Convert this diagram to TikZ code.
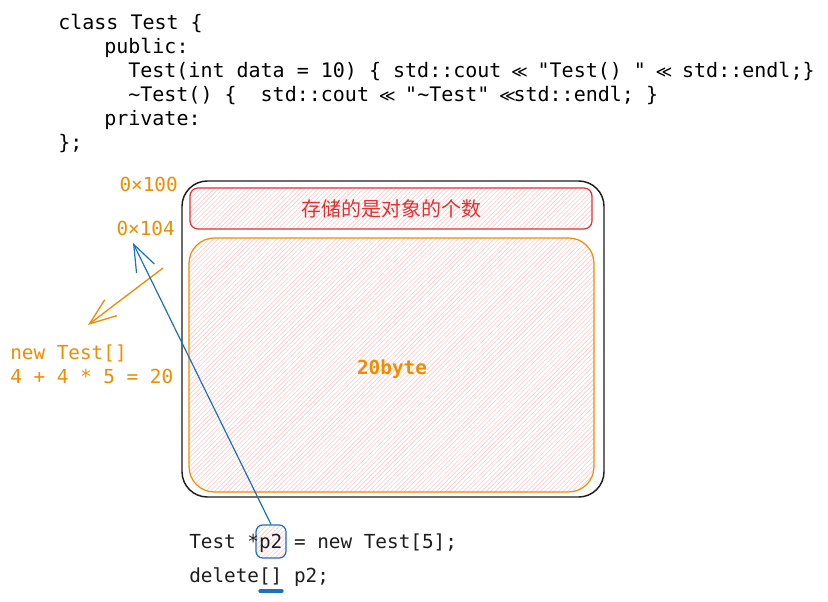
\documentclass[tikz,border=0pt]{standalone}
\usepackage{fontspec}
\setmonofont{DejaVu Sans Mono}
\newfontfamily\cjk{Noto Sans CJK SC}
\newfontfamily\symfont{DejaVu Sans}
\newcommand\shl{\makebox[0.602em]{\symfont\fontsize{12}{12}\selectfont ≪}}
\usetikzlibrary{arrows.meta,fit,patterns.meta,positioning}
\definecolor{ink}{HTML}{1E1E1E}
\definecolor{exorange}{HTML}{F08C00}
\definecolor{exred}{HTML}{E03131}
\definecolor{exblue}{HTML}{1971C2}
\definecolor{hatch}{HTML}{FFC9C9}
\tikzset {
  >={Straight Barb[length=20pt,width=15pt]},
  every node/.style={font=\ttfamily\fontsize{14.5}{18}\selectfont, inner sep=0pt},
  code/.style={anchor=mid west, text=ink},
  topcode/.style={code, font=\ttfamily\fontsize{15}{18}\selectfont, text=black},
  addr/.style={anchor=mid east, text=exorange},
  hatched/.style={pattern={Lines[angle=45,distance=2.4pt,line width=0.45pt]}, pattern color=hatch},
  box/.style={draw, rounded corners=#1, line width=0.9pt, inner sep=0pt},
}

\begin{document}
\begin{tikzpicture}[x=0.75pt,y=-0.75pt]
          \useasboundingbox[fill=white] (0,0) rectangle (828,602);

          \node[topcode] (l1) at (58,27) {class Test \{};
          \node[topcode] (l2) at (104,51) {public:};
          \node[topcode] (l3) at (128,75) {Test(int data = 10) \{ std::cout \shl{} "Test() " \shl{} std::endl;\}};
          \node[topcode] (l4) at (128,99) {\textasciitilde Test() \{ \ std::cout \shl{} "\textasciitilde Test" \shl std::endl; \}};
          \node[topcode] (l5) at (104,123) {private:};
          \node[topcode] (l6) at (58,147) {\};};

          \node[fit={(182,181) (604,497)}, box=19pt, draw=ink, line width=1.1pt] (mem) {};
          \node[fit={(190,188) (592,229)}, box=6pt, draw=exred, hatched] (count) {};
          \node[text=exred, font=\cjk\fontsize{15}{18}\selectfont] (countlbl) at (count.center) {存储的是对象的个数};
          \node[fit={(189,238) (594,492)}, box=19pt, draw=exorange, hatched] (objs) {};
          \node[text=exorange, font=\ttfamily\bfseries\fontsize{14.5}{18}\selectfont] (objslbl) at (392,369) {20byte};

          \node[addr] (a100) at (178,189) {0×100};
          \node[addr] (a104) at (175,233) {0×104};
          \node[code, text=exorange] (new1) at (10,357) {new Test[]};
          \node[code, text=exorange] (new2) at (10,381) {4 + 4 * 5 = 20};

          \coordinate (otail) at (163,268);
          \coordinate (ohead) at (88,325);
          \draw[->, exorange, line width=1pt] (otail) -- (ohead);

          \node[fit={(256,525) (286,558)}, box=5pt, draw=exblue, hatched] (p2) {};
          \node[code] (decl) at (189,546) {Test *p2 = new Test[5];};
          \node[code] (del) at (189,580) {delete[] p2;};

          \coordinate (btip) at (133,243);
          \draw[->, exblue, line width=0.9pt] (p2.north) -- (btip);

          \coordinate (ul1) at (260,591);
          \coordinate (ul2) at (282,591);
          \draw[exblue, line width=2.4pt, line cap=round] (ul1) -- (ul2);
        \end{tikzpicture}
\end{document}
